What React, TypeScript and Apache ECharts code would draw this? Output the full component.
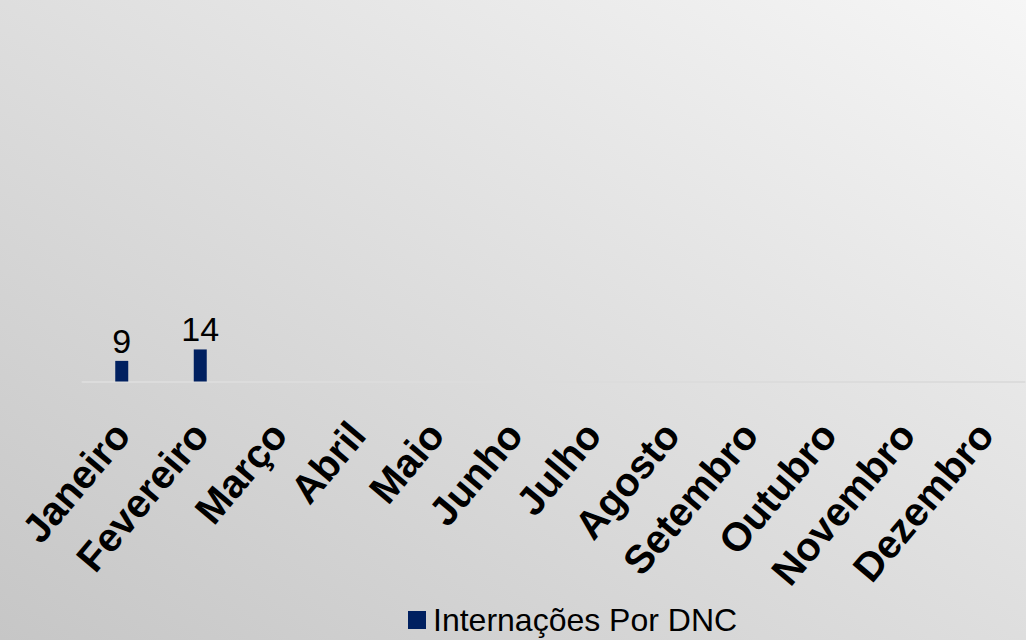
import React, { useEffect, useRef } from "react";
import * as echarts from "echarts";

const months = ["Janeiro", "Fevereiro", "Março", "Abril", "Maio", "Junho", "Julho", "Agosto", "Setembro", "Outubro", "Novembro", "Dezembro"];
const internacoes = [9, 14, null, null, null, null, null, null, null, null, null, null];
const seriesName = "Internações Por DNC";

export default function App() {
  const ref = useRef<HTMLDivElement>(null);
  useEffect(() => {
    document.body.style.margin = "0";
    const chart = echarts.init(ref.current!, null, { renderer: "svg" });
    chart.setOption({
      animation: false,
      backgroundColor: new echarts.graphic.LinearGradient(0, 1, 1, 0, [
        { offset: 0, color: "#c6c6c6" },
        { offset: 1, color: "#f6f6f6" },
      ]),
      grid: { left: 82.5, right: 1.5, top: 152.5, height: 229 },
      xAxis: {
        type: "category",
        data: months,
        axisLine: { show: true, lineStyle: { color: "#dcdcdc", width: 2 } },
        axisTick: { show: false },
        axisLabel: {
          rotate: 50,
          interval: 0,
          margin: 46,
          fontFamily: "Liberation Sans, Arial, sans-serif",
          fontWeight: "bold",
          fontSize: 40,
          color: "#000",
        },
      },
      yAxis: {
        type: "value",
        min: 0,
        max: 100,
        show: false,
        splitLine: { show: false },
      },
      legend: {
        top: 604,
        left: 408,
        itemWidth: 18,
        itemHeight: 18,
        icon: "rect",
        padding: 0,
        textStyle: { fontFamily: "Liberation Sans, Arial, sans-serif", fontSize: 32, color: "#000", padding: [0, 0, 0, 2] },
        data: [seriesName],
      },
      series: [
        {
          name: seriesName,
          type: "bar",
          data: internacoes,
          barWidth: 13,
          itemStyle: { color: "#002060" },
          label: {
            show: true,
            position: "top",
            distance: 3,
            fontFamily: "Liberation Sans, Arial, sans-serif",
            fontSize: 34,
            color: "#000",
          },
        },
      ],
    });
    return () => chart.dispose();
  }, []);
  return <div ref={ref} style={{ position: "absolute", left: 0, top: 0, width: 1026, height: 640 }} />;
}
